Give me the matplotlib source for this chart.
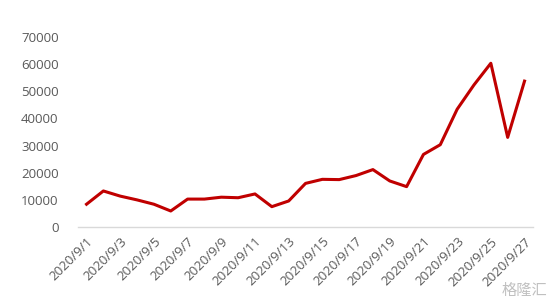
import matplotlib
matplotlib.use("Agg")
import matplotlib.pyplot as plt

plt.rcParams['font.family'] = ['Open Sans', 'Noto Sans CJK SC', 'DejaVu Sans']

dates = [f"2020/9/{d}" for d in range(1, 28)]
values = [8300, 13200, 11300, 9900, 8300, 5800, 10200, 10200, 10900, 10700,
          12100, 7400, 9500, 16000, 17500, 17400, 18900, 21100, 16900, 14800,
          26700, 30300, 43400, 52400, 60400, 33000, 53800]
yticks = [0, 10000, 20000, 30000, 40000, 50000, 60000, 70000]

fig = plt.figure(figsize=(5.5, 3.08), dpi=100)
ax = fig.add_axes([0.142, 0.264, 0.827, 0.615])
x = list(range(len(dates)))
ax.plot(x, values, color='#C00000', linewidth=2.2, solid_joinstyle='round')
ax.set_xlim(-0.5, len(dates) - 0.5)
ax.set_ylim(0, 70000)
ax.set_yticks(yticks)
ax.set_yticklabels([str(v) for v in yticks])
ax.set_xticks(x[::2])
ax.set_xticklabels(dates[::2], rotation=45, ha='right', rotation_mode='anchor')
for s in ['top', 'right', 'left']:
    ax.spines[s].set_visible(False)
ax.spines['bottom'].set_color('#d9d9d9')
ax.spines['bottom'].set_linewidth(1)
ax.tick_params(axis='both', length=0, colors='#595959', labelsize=9.5)
ax.tick_params(axis='y', pad=14)
ax.tick_params(axis='x', pad=6)

fig.text(0.995, 0.03, "格隆汇", ha='right', va='bottom', fontsize=11,
         color='#c0c0c0', family=['Noto Sans CJK SC', 'DejaVu Sans'])

fig.savefig("out.png", dpi=100, facecolor='white')
